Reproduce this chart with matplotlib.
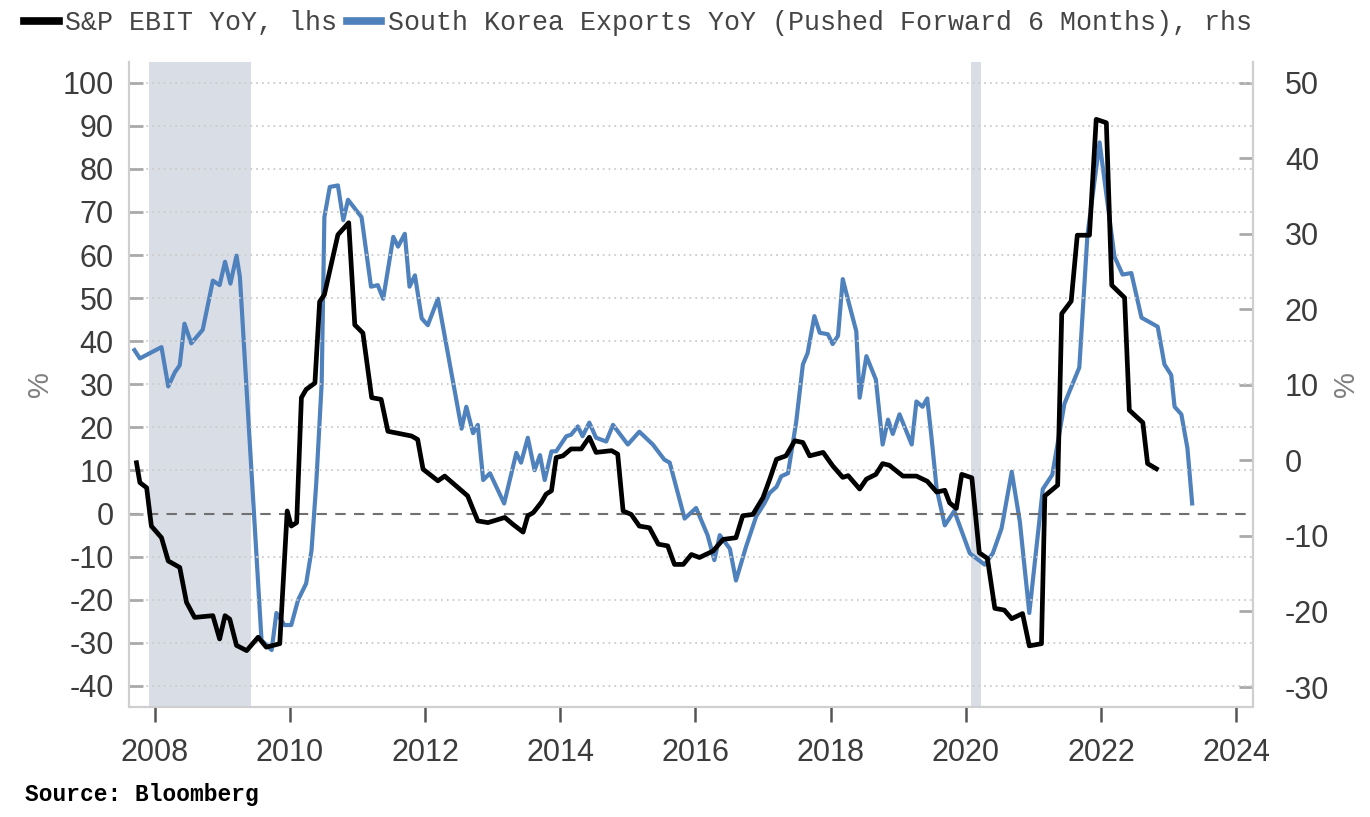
import matplotlib
matplotlib.use('Agg')
import matplotlib.pyplot as plt
from matplotlib.lines import Line2D

plt.rcParams['axes.unicode_minus'] = False

# S&P EBIT YoY (%), left axis -- decimal years
ebit_t = [2007.73, 2007.78, 2007.88, 2007.95, 2008.10, 2008.20, 2008.37, 2008.47, 2008.59, 2008.86,
          2008.96, 2009.04, 2009.11, 2009.21, 2009.36, 2009.53, 2009.65, 2009.85, 2009.96, 2010.02,
          2010.10, 2010.17, 2010.24, 2010.37, 2010.44, 2010.51, 2010.71, 2010.87, 2010.96, 2011.08,
          2011.21, 2011.35, 2011.45, 2011.80, 2011.89, 2011.97, 2012.19, 2012.29, 2012.63, 2012.78,
          2012.93, 2013.18, 2013.30, 2013.45, 2013.52, 2013.60, 2013.72, 2013.79, 2013.87, 2013.94,
          2014.04, 2014.16, 2014.31, 2014.43, 2014.53, 2014.76, 2014.85, 2014.93, 2015.05, 2015.17,
          2015.32, 2015.45, 2015.59, 2015.69, 2015.82, 2015.94, 2016.06, 2016.26, 2016.41, 2016.60,
          2016.70, 2016.85, 2017.00, 2017.10, 2017.20, 2017.34, 2017.47, 2017.59, 2017.69, 2017.89,
          2018.03, 2018.18, 2018.26, 2018.43, 2018.53, 2018.67, 2018.77, 2018.87, 2019.07, 2019.27,
          2019.43, 2019.57, 2019.69, 2019.76, 2019.86, 2019.94, 2020.09, 2020.20, 2020.32, 2020.43,
          2020.57, 2020.68, 2020.84, 2020.94, 2021.12, 2021.17, 2021.36, 2021.42, 2021.56, 2021.65,
          2021.83, 2021.93, 2022.08, 2022.16, 2022.35, 2022.42, 2022.62, 2022.69, 2022.82]
ebit_v = [11.8, 7.2, 6.0, -2.9, -5.6, -11.0, -12.5, -20.6, -24.1, -23.7,
          -29.1, -23.7, -24.5, -30.6, -31.8, -28.7, -31.0, -30.2, 0.6, -2.9,
          -2.1, 26.9, 28.8, 30.3, 49.2, 50.8, 64.7, 67.5, 43.8, 41.9,
          26.9, 26.5, 19.1, 18.0, 17.2, 10.3, 7.6, 8.7, 4.1, -1.7,
          -2.1, -0.9, -2.5, -4.3, -0.5, 0.2, 2.6, 4.5, 5.3, 13.0,
          13.4, 15.0, 15.0, 17.7, 14.2, 14.6, 13.8, 0.6, -0.2, -2.9,
          -3.3, -7.1, -7.5, -11.8, -11.8, -9.5, -10.2, -8.7, -6.0, -5.6,
          -0.5, -0.2, 3.7, 8.0, 12.6, 13.4, 16.9, 16.5, 13.4, 14.2,
          11.1, 8.4, 8.8, 5.7, 8.0, 9.1, 11.6, 11.2, 8.7, 8.7,
          7.5, 5.0, 5.4, 2.5, 1.2, 9.1, 8.3, -9.1, -10.4, -22.0,
          -22.4, -24.4, -23.2, -30.7, -30.2, 4.1, 6.6, 46.4, 49.3, 64.6,
          64.6, 91.5, 90.7, 53.0, 50.1, 24.0, 21.1, 11.6, 10.4]

# South Korea exports YoY (%), pushed forward 6 months, right axis
kor_t = [2007.70, 2007.78, 2008.10, 2008.20, 2008.30, 2008.37, 2008.44, 2008.54, 2008.71, 2008.86,
         2008.96, 2009.04, 2009.12, 2009.21, 2009.26, 2009.58, 2009.73, 2009.80, 2009.92, 2010.02,
         2010.12, 2010.24, 2010.32, 2010.39, 2010.47, 2010.51, 2010.59, 2010.71, 2010.79, 2010.86,
         2011.06, 2011.20, 2011.30, 2011.38, 2011.53, 2011.60, 2011.70, 2011.77, 2011.85, 2011.95,
         2012.04, 2012.19, 2012.54, 2012.61, 2012.71, 2012.78, 2012.86, 2012.96, 2013.17, 2013.35,
         2013.42, 2013.52, 2013.62, 2013.70, 2013.77, 2013.87, 2013.94, 2014.09, 2014.16, 2014.26,
         2014.33, 2014.43, 2014.53, 2014.68, 2014.78, 2015.00, 2015.17, 2015.37, 2015.54, 2015.62,
         2015.84, 2016.01, 2016.18, 2016.28, 2016.36, 2016.51, 2016.60, 2016.75, 2016.90, 2017.02,
         2017.10, 2017.20, 2017.27, 2017.37, 2017.49, 2017.59, 2017.66, 2017.76, 2017.84, 2017.96,
         2018.03, 2018.11, 2018.18, 2018.28, 2018.38, 2018.43, 2018.53, 2018.67, 2018.77, 2018.85,
         2018.92, 2019.02, 2019.20, 2019.27, 2019.36, 2019.43, 2019.49, 2019.57, 2019.69, 2019.83,
         2020.06, 2020.28, 2020.40, 2020.53, 2020.68, 2020.80, 2020.94, 2021.14, 2021.28, 2021.46,
         2021.68, 2021.80, 2021.98, 2022.20, 2022.32, 2022.45, 2022.60, 2022.84, 2022.94, 2023.04,
         2023.09, 2023.19, 2023.28, 2023.35]
kor_v = [14.6, 13.5, 15.0, 9.8, 11.7, 12.6, 18.1, 15.5, 17.3, 23.8,
         23.2, 26.3, 23.4, 27.1, 24.3, -23.8, -25.1, -20.2, -21.8, -21.8,
         -18.5, -16.3, -11.9, -3.0, 10.2, 32.2, 36.2, 36.4, 31.8, 34.5,
         32.2, 23.0, 23.2, 21.4, 29.6, 28.3, 30.0, 23.0, 24.5, 18.8,
         17.9, 21.4, 4.2, 7.1, 3.6, 4.7, -2.6, -1.7, -5.7, 1.0,
         -0.3, 3.0, -1.3, 0.7, -2.6, 1.2, 1.2, 3.2, 3.4, 4.5,
         3.2, 5.0, 3.0, 2.5, 4.7, 2.1, 3.8, 2.1, 0.1, -0.3,
         -7.7, -6.3, -9.9, -13.2, -9.9, -11.7, -15.9, -11.4, -7.4, -5.7,
         -4.3, -3.5, -2.1, -1.7, 5.0, 12.7, 14.2, 19.1, 16.9, 16.7,
         15.4, 16.5, 24.0, 20.5, 17.1, 8.3, 13.8, 10.7, 2.1, 5.4,
         3.5, 6.1, 2.1, 7.8, 7.1, 8.2, 3.3, -3.8, -8.6, -6.7,
         -12.3, -13.8, -12.3, -9.0, -1.5, -8.1, -20.2, -3.8, -1.9, 7.5,
         12.3, 29.8, 42.1, 27.0, 24.6, 24.8, 18.9, 17.7, 12.7, 11.3,
         7.1, 6.1, 1.6, -5.7]

recessions = [(2007.92, 2009.42), (2020.08, 2020.23)]

left_ticks = list(range(-40, 101, 10))
right_ticks = list(range(-30, 51, 10))
year_ticks = list(range(2008, 2025, 2))

num_font = ['Liberation Sans', 'DejaVu Sans']
mono_font = ['Liberation Mono', 'DejaVu Sans Mono']
label_col = '#3c3c3c'
spine_col = '#cfcfcf'
blue = '#4f81bd'

fig = plt.figure(figsize=(13.7, 8.17), dpi=100)
ax1 = fig.add_axes([0.0942, 0.1346, 0.8204, 0.7895])
ax2 = ax1.twinx()

# shading + blue on the back axis, black on the front one
for a, b in recessions:
    ax2.axvspan(a, b, color='#d9dde6', lw=0, zorder=0)
ax2.plot(kor_t, kor_v, color=blue, lw=3.0, solid_joinstyle='round', zorder=2)

ax1.set_zorder(ax2.get_zorder() + 1)
ax1.patch.set_visible(False)
ax1.plot(ebit_t, ebit_v, color='black', lw=3.4, solid_joinstyle='round', zorder=3)
ax1.axhline(0, color='#707070', lw=1.5, dashes=(5, 4), zorder=1)

for t in left_ticks:
    if t != 0:
        ax1.axhline(t, color='#cccccc', lw=1.3, ls=(0, (1, 2.2)), zorder=0.5)

ax1.set_xlim(2007.62, 2024.25)
ax1.set_ylim(-44.9, 104.8)
ax2.set_ylim(-32.65, 52.74)

ax1.set_yticks(left_ticks)
ax2.set_yticks(right_ticks)
ax1.set_xticks(year_ticks)
ax1.set_xticklabels([str(y) for y in year_ticks])

for a in (ax1, ax2):
    for s in a.spines.values():
        s.set_color(spine_col)
        s.set_linewidth(1.5)
    a.spines['top'].set_visible(False)

ax1.tick_params(axis='y', direction='in', length=10, width=2, color='#aaaaaa',
                labelsize=22, labelcolor=label_col, pad=11)
ax2.tick_params(axis='y', direction='in', length=10, width=2, color='#aaaaaa',
                labelsize=22, labelcolor=label_col, pad=23)
ax1.tick_params(axis='x', direction='out', length=11, width=1.8, color='#555555',
                labelsize=22, labelcolor=label_col, pad=11)
for lab in ax1.get_xticklabels() + ax1.get_yticklabels() + ax2.get_yticklabels():
    lab.set_family(num_font)

ax1.set_ylabel('%', fontsize=21, color='#808080', family=num_font, labelpad=6)
ax2.set_ylabel('%', fontsize=21, color='#808080', family=num_font, labelpad=2, rotation=90)

handles = [Line2D([], [], color='black', lw=5.5),
           Line2D([], [], color=blue, lw=5.5)]
fig.legend(handles, ['S&P EBIT YoY, lhs', 'South Korea Exports YoY (Pushed Forward 6 Months), rhs'],
           loc='upper left', bbox_to_anchor=(0.0, 1.017), ncol=2, frameon=False,
           handlelength=1.3, handletextpad=0.25, columnspacing=0.35,
           prop={'family': mono_font, 'size': 19.2}, labelcolor='#454545')

fig.text(0.018, 0.02, 'Source: Bloomberg', fontsize=16.5, fontweight='bold',
         family=mono_font, color='black')

fig.savefig('out.png', dpi=100)
